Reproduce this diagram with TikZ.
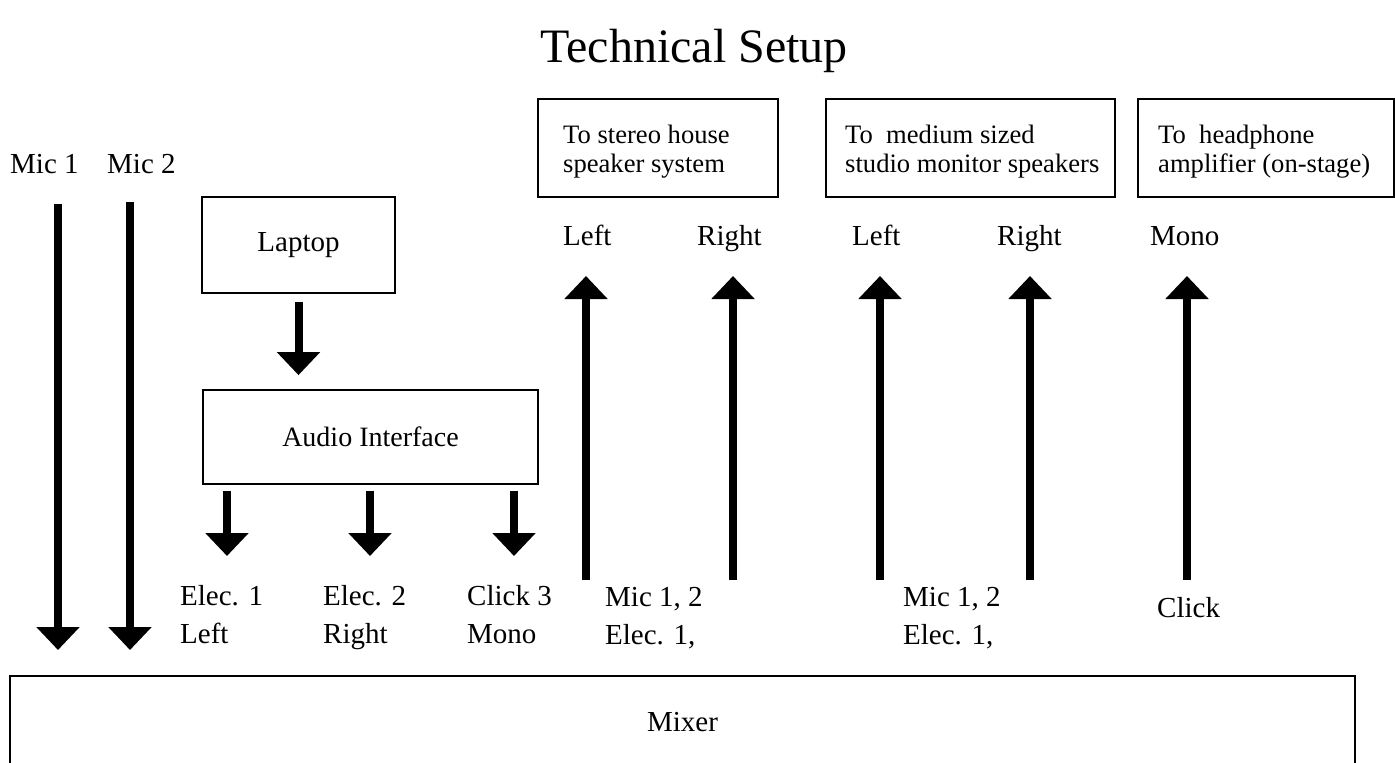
\documentclass[tikz,border=0pt]{standalone}
\usepackage{fontspec}
\setmainfont{Liberation Serif}
\usetikzlibrary{arrows.meta}
\begin{document}
\begin{tikzpicture}[x=1pt,y=-1pt,
  box/.style={draw, line width=1.8pt, inner sep=0pt},
  lbl/.style={font=\fontsize{29}{29}\selectfont, inner sep=0pt, anchor=base west},
  boxtxt/.style={font=\fontsize{26.6}{26.6}\selectfont, inner sep=0pt, anchor=base west},
  fat/.style={line width=8pt, -{Triangle[width=42pt,length=23pt]}},
]
\useasboundingbox (0,0) rectangle (1395,763);

% title
\node[font=\fontsize{48}{48}\selectfont, inner sep=0pt, anchor=base] (title) at (694,62) {Technical Setup};

% mics
\node[lbl] (mic1) at (10,173) {Mic 1};
\node[lbl] (mic2) at (107,173) {Mic 2};
\coordinate (m1s) at (58,204);
\coordinate (m1e) at (58,650);
\coordinate (m2s) at (130,202);
\coordinate (m2e) at (130,650);
\draw[fat] (m1s) -- (m1e);
\draw[fat] (m2s) -- (m2e);

% laptop and audio interface
\node[box, minimum width=193pt, minimum height=96pt, font=\fontsize{29}{29}\selectfont] (laptop) at (298.5,245) {Laptop};
\node[box, minimum width=335pt, minimum height=94pt, font=\fontsize{28}{28}\selectfont] (ai) at (370.5,437) {Audio Interface};
\draw[fat] ([yshift=-8pt]laptop.south) -- ([yshift=14pt]laptop.south |- ai.north);

\coordinate (a1) at (227,556);
\coordinate (a2) at (370,556);
\coordinate (a3) at (514,556);
\draw[fat] ([yshift=-6pt]ai.south -| a1) -- (a1);
\draw[fat] ([yshift=-6pt]ai.south -| a2) -- (a2);
\draw[fat] ([yshift=-6pt]ai.south -| a3) -- (a3);

\node[lbl] (el1a) at (180,605) {Elec. 1};
\node[lbl] (el1b) at (180,643) {Left};
\node[lbl] (el2a) at (323,605) {Elec. 2};
\node[lbl] (el2b) at (323,643) {Right};
\node[lbl] (cl3a) at (467,605) {Click 3};
\node[lbl] (cl3b) at (467,643) {Mono};

% output boxes
\node[box, minimum width=240pt, minimum height=98pt] (b1) at (658,148) {};
\node[boxtxt] (b1t1) at (563,143) {To stereo house};
\node[boxtxt] (b1t2) at (563,172) {speaker system};
\node[box, minimum width=289pt, minimum height=98pt] (b2) at (970.5,148) {};
\node[boxtxt] (b2t1) at (845,143) {To~~medium sized};
\node[boxtxt] (b2t2) at (845,172) {studio monitor speakers};
\node[box, minimum width=256pt, minimum height=98pt] (b3) at (1266,148) {};
\node[boxtxt] (b3t1) at (1158,143) {To~~headphone};
\node[boxtxt] (b3t2) at (1158,172) {amplifier (on-stage)};

% channel labels
\node[lbl] (l1) at (563,245) {Left};
\node[lbl] (r1) at (697,245) {Right};
\node[lbl] (l2) at (852,245) {Left};
\node[lbl] (r2) at (997,245) {Right};
\node[lbl] (mo) at (1150,245) {Mono};

% up arrows
\coordinate (u1s) at (586,580); \coordinate (u1e) at (586,276);
\coordinate (u2s) at (733,580); \coordinate (u2e) at (733,276);
\coordinate (u3s) at (880,580); \coordinate (u3e) at (880,276);
\coordinate (u4s) at (1030,580); \coordinate (u4e) at (1030,276);
\coordinate (u5s) at (1187,580); \coordinate (u5e) at (1187,276);
\draw[fat] (u1s) -- (u1e);
\draw[fat] (u2s) -- (u2e);
\draw[fat] (u3s) -- (u3e);
\draw[fat] (u4s) -- (u4e);
\draw[fat] (u5s) -- (u5e);

\node[lbl] (s1a) at (605,606) {Mic 1, 2};
\node[lbl] (s1b) at (605,644) {Elec. 1,};
\node[lbl] (s2a) at (903,606) {Mic 1, 2};
\node[lbl] (s2b) at (903,644) {Elec. 1,};
\node[lbl] (clk) at (1157,617) {Click};

% mixer
\node[box, minimum width=1345pt, minimum height=92pt, font=\fontsize{29}{29}\selectfont] (mixer) at (682.5,722) {Mixer};
\end{tikzpicture}
\end{document}
